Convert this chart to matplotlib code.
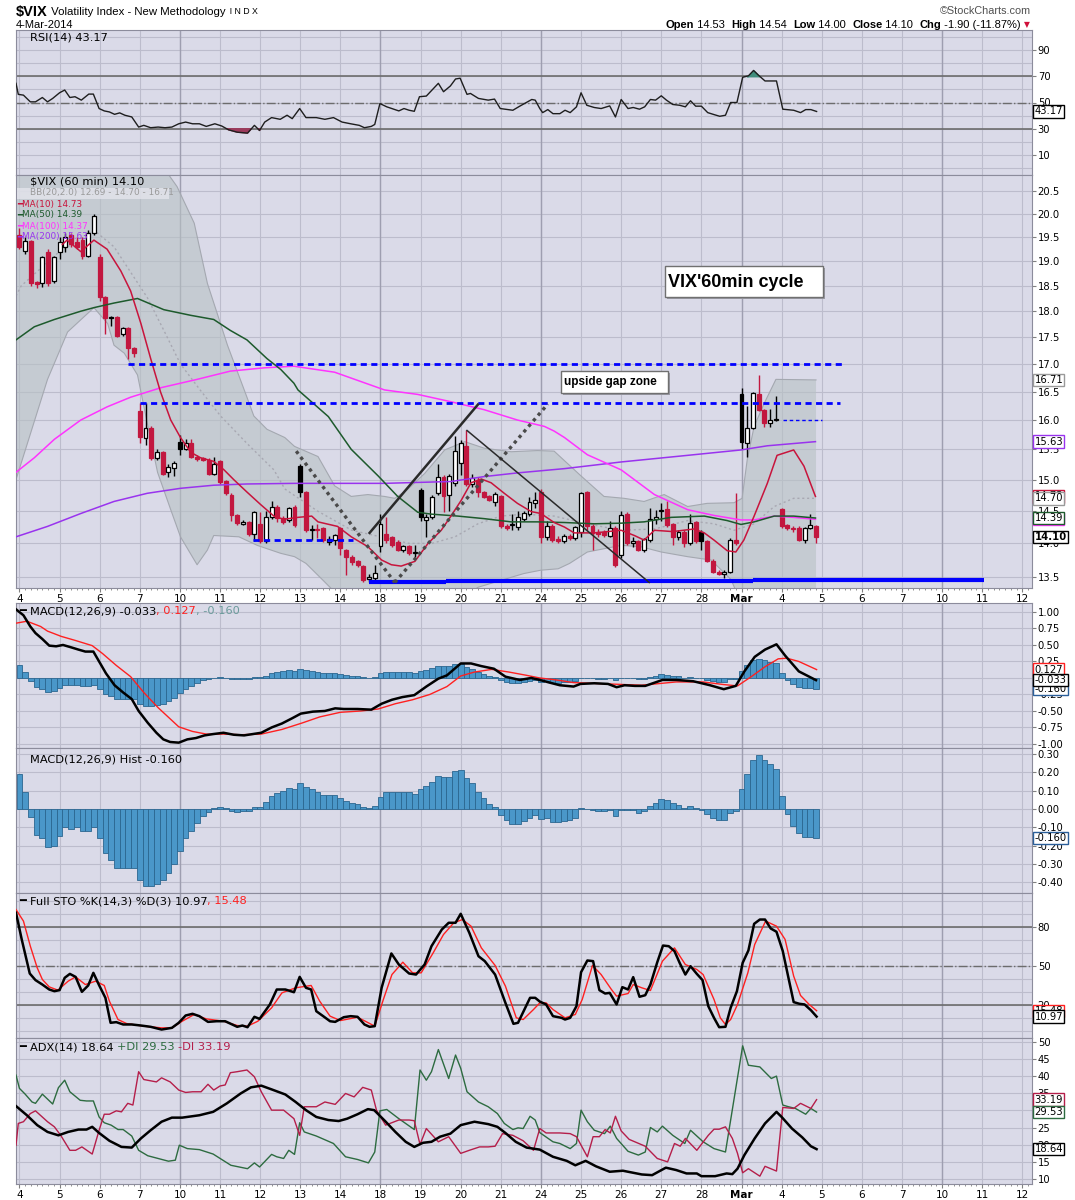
import numpy as np
import matplotlib.pyplot as plt
import matplotlib.transforms as mtransforms
from matplotlib.patches import Rectangle
from matplotlib.ticker import FixedLocator, NullLocator, FuncFormatter

# velas de 60 min, 7 por dia (4-feb ... 4-mar)
c_open = [19.55, 19.22, 19.42, 18.58, 18.55, 19.20, 18.60,
          19.20, 19.30, 19.55, 19.40, 19.45, 19.10, 19.60,
          19.09, 18.27, 17.88, 17.88, 17.56, 17.68, 17.30,
          16.15, 15.70, 15.87, 15.36, 15.45, 15.12, 15.19,
          15.63, 15.51, 15.60, 15.37, 15.35, 15.33, 15.10,
          15.30, 14.98, 14.76, 14.43, 14.30, 14.33, 14.15,
          14.30, 14.03, 14.40, 14.57, 14.39, 14.36, 14.56,
          15.22, 14.80, 14.20, 14.22, 14.23, 14.02, 14.05,
          14.23, 13.90, 13.80, 13.73, 13.66, 13.47, 13.48,
          13.96, 14.15, 14.10, 14.02, 13.90, 13.96, 13.86,
          14.84, 14.36, 14.40, 14.78, 15.05, 14.75, 14.95,
          15.27, 15.56, 14.93, 15.00, 14.80, 14.73, 14.64,
          14.73, 14.27, 14.28, 14.25, 14.38, 14.46, 14.62,
          14.80, 14.10, 14.27, 14.07, 14.03, 14.12, 14.08,
          14.17, 14.80, 14.27, 14.18, 14.17, 14.12, 14.24,
          13.83, 14.46, 14.00, 14.03, 13.90, 14.05, 14.38,
          14.50, 14.53, 14.30, 14.10, 14.18, 14.00, 14.33,
          14.17, 14.03, 13.74, 13.58, 13.55, 13.58, 14.05,
          16.46, 15.61, 15.86, 16.46, 16.17, 15.95, 16.00,
          14.53, 14.28, 14.22, 14.23, 14.05, 14.23, 14.27]
c_high = [19.70, 19.50, 19.45, 18.60, 19.10, 19.25, 19.10,
          19.50, 19.60, 19.60, 19.50, 19.50, 19.65, 20.00,
          19.15, 18.30, 17.90, 17.90, 17.70, 17.70, 17.32,
          16.30, 16.30, 15.90, 15.50, 15.47, 15.25, 15.30,
          15.75, 15.68, 15.68, 15.40, 15.38, 15.36, 15.38,
          15.32, 15.00, 14.78, 14.45, 14.36, 14.35, 14.50,
          14.48, 14.50, 14.65, 14.60, 14.42, 14.56, 14.60,
          15.25, 14.82, 14.28, 14.30, 14.25, 14.12, 14.15,
          14.25, 13.92, 13.82, 13.75, 13.68, 13.55, 13.68,
          14.45, 14.40, 14.12, 14.05, 13.98, 13.98, 13.97,
          14.86, 14.45, 14.75, 15.25, 15.08, 15.10, 15.72,
          15.65, 15.82, 15.10, 15.05, 14.82, 14.75, 14.80,
          14.76, 14.30, 14.45, 14.50, 14.50, 14.72, 14.80,
          14.85, 14.35, 14.30, 14.12, 14.15, 14.15, 14.27,
          14.80, 14.82, 14.30, 14.22, 14.20, 14.35, 14.27,
          14.50, 14.48, 14.10, 14.05, 14.08, 14.55, 14.52,
          14.62, 14.65, 14.32, 14.20, 14.20, 14.46, 14.35,
          14.20, 14.05, 13.76, 13.60, 13.60, 14.08, 14.78,
          16.56, 16.25, 16.50, 16.80, 16.20, 16.20, 16.42,
          14.54, 14.30, 14.26, 14.26, 14.25, 14.45, 14.28]
c_low = [19.25, 19.15, 18.50, 18.45, 18.47, 18.50, 18.55,
         19.05, 19.20, 19.30, 19.25, 19.05, 19.08, 19.55,
         18.20, 17.56, 17.72, 17.50, 17.53, 17.09, 17.13,
         15.60, 15.58, 15.33, 15.33, 15.07, 15.05, 15.06,
         15.40, 15.49, 15.35, 15.30, 15.30, 15.08, 15.08,
         14.93, 14.75, 14.35, 14.28, 14.28, 14.12, 14.03,
         14.00, 14.00, 14.38, 14.33, 14.30, 14.33, 14.25,
         14.72, 14.18, 14.05, 14.08, 14.02, 13.98, 13.97,
         13.83, 13.53, 13.68, 13.65, 13.43, 13.43, 13.46,
         13.87, 14.00, 13.95, 13.88, 13.87, 13.83, 13.80,
         14.35, 14.10, 14.38, 14.75, 14.48, 14.50, 14.90,
         15.08, 14.90, 14.88, 14.72, 14.70, 14.65, 14.58,
         14.24, 14.20, 14.20, 14.20, 14.35, 14.42, 14.55,
         14.00, 14.05, 14.02, 14.00, 14.00, 14.05, 14.05,
         14.10, 14.20, 13.90, 14.10, 14.10, 14.10, 13.65,
         13.78, 13.98, 13.94, 13.88, 13.87, 14.02, 14.30,
         14.35, 14.25, 13.98, 14.05, 13.95, 13.97, 14.00,
         13.90, 13.72, 13.56, 13.53, 13.49, 13.56, 13.98,
         15.50, 15.38, 15.84, 16.15, 15.88, 15.88, 15.99,
         14.24, 14.20, 14.18, 14.04, 14.00, 14.22, 14.00]
c_close = [19.30, 19.42, 18.56, 18.54, 19.08, 18.56, 19.08,
           19.40, 19.50, 19.35, 19.30, 19.10, 19.60, 19.95,
           18.27, 17.86, 17.86, 17.53, 17.68, 17.30, 17.20,
           15.71, 15.87, 15.36, 15.45, 15.10, 15.20, 15.28,
           15.51, 15.60, 15.37, 15.34, 15.33, 15.10, 15.25,
           14.96, 14.78, 14.43, 14.31, 14.33, 14.15, 14.48,
           14.03, 14.40, 14.57, 14.39, 14.33, 14.54, 14.28,
           14.80, 14.20, 14.22, 14.21, 14.05, 14.07, 14.13,
           13.93, 13.80, 13.72, 13.67, 13.45, 13.50, 13.56,
           14.30, 14.05, 13.97, 13.90, 13.96, 13.86, 13.87,
           14.40, 14.40, 14.72, 15.05, 14.73, 15.06, 15.48,
           15.61, 14.93, 15.03, 14.80, 14.72, 14.67, 14.77,
           14.26, 14.23, 14.30, 14.40, 14.47, 14.64, 14.68,
           14.10, 14.27, 14.05, 14.03, 14.12, 14.08, 14.25,
           14.78, 14.27, 14.16, 14.14, 14.13, 14.24, 13.67,
           14.43, 14.00, 14.03, 13.90, 14.06, 14.38, 14.40,
           14.52, 14.28, 14.10, 14.18, 14.00, 14.31, 14.03,
           14.03, 13.73, 13.58, 13.55, 13.58, 14.05, 14.00,
           15.63, 15.87, 16.48, 16.17, 15.95, 16.00, 16.00,
           14.27, 14.24, 14.23, 14.05, 14.23, 14.28, 14.10]

day_labels = ['4', '5', '6', '7', '10', '11', '12', '13', '14', '18', '19', '20', '21',
              '24', '25', '26', '27', '28', 'Mar', '4', '5', '6', '7', '10', '11', '12']
week_starts = [4, 9, 13, 18, 23]   # indices de dia: 10-feb, 18-feb, 24-feb, 3-mar, 10-mar

# medias y bandas (posicion en barras, valor)
ma10 = [(7.5, 19.35), (8.3, 19.44), (10.7, 19.2), (13, 19.44), (15.3, 19.25), (17.7, 18.8), (19.4, 18.4),
        (21.2, 17.76), (22.9, 17.1), (24.6, 16.5), (26.4, 16.0), (28.1, 15.7), (29.9, 15.45), (31.6, 15.36),
        (33.9, 15.3), (35.7, 15.16), (37.4, 15.0), (39.7, 14.8), (42.1, 14.6), (44.4, 14.42), (46.1, 14.37),
        (48.6, 14.4), (51, 14.42), (52.1, 14.33), (55.5, 14.26), (57.9, 14.1), (60.8, 13.95), (63.2, 13.75),
        (64.9, 13.68), (66.6, 13.66), (69, 13.73), (71.3, 14.0), (73.6, 14.2), (75.3, 14.42), (77.1, 14.67),
        (78.8, 14.95), (80.6, 15.01), (82.3, 14.95), (84.6, 14.78), (86.9, 14.62), (89.3, 14.49), (91, 14.46),
        (93.3, 14.32), (95.1, 14.25), (96.8, 14.16), (100.3, 14.16), (105, 14.2), (107.3, 14.12), (109, 14.05),
        (110.8, 14.2), (114, 14.18), (117.7, 14.22), (119.5, 14.16), (121.2, 14.05), (123.5, 13.89),
        (125, 13.87), (126.4, 14.05), (128.2, 14.42), (130.5, 14.94), (132.2, 15.4), (135.1, 15.49),
        (136.9, 15.22), (138.9, 14.73)]
ma50 = [(-0.6, 17.45), (2.6, 17.7), (6.1, 17.84), (10.7, 18.0), (13, 18.07), (16.5, 18.16), (20.6, 18.25),
        (25.2, 18.03), (29.9, 17.92), (33.9, 17.84), (36.8, 17.63), (39.7, 17.45), (43.2, 17.1), (45.6, 16.9),
        (47.9, 16.65), (48.6, 16.53), (53.9, 16.06), (57.9, 15.5), (62.6, 15.06), (66, 14.73), (69.5, 14.48),
        (71.9, 14.45), (76.5, 14.42), (81.1, 14.38), (85.8, 14.33), (90.4, 14.33), (95.1, 14.32),
        (100.3, 14.3), (105, 14.31), (109, 14.33), (113.7, 14.4), (119.5, 14.42), (123.5, 14.35),
        (125.9, 14.29), (128.2, 14.33), (131.7, 14.42), (135.1, 14.42), (138.9, 14.39)]
ma100 = [(-0.6, 15.12), (2.6, 15.36), (6.1, 15.67), (10.7, 16.0), (15.3, 16.23), (19.4, 16.4), (24.7, 16.57),
         (31, 16.72), (36.8, 16.87), (42.7, 16.93), (47.9, 16.96), (55, 16.85), (63.7, 16.53), (69.5, 16.45),
         (75.3, 16.32), (81.1, 16.18), (86.9, 16.0), (91.6, 15.89), (93.3, 15.81), (95.1, 15.7),
         (99.1, 15.41), (105, 15.16), (110.8, 14.76), (116.6, 14.52), (121.2, 14.43), (125.9, 14.36),
         (128.2, 14.36), (131.7, 14.42), (135.1, 14.4), (138.9, 14.37)]
ma200 = [(-0.6, 14.1), (4.9, 14.26), (10.7, 14.46), (16.5, 14.65), (22.3, 14.78), (28.1, 14.86), (33.9, 14.91),
         (39.7, 14.93), (47.9, 14.94), (63.7, 14.94), (75.3, 14.97), (81.1, 15.05), (86.9, 15.11),
         (95.1, 15.18), (105, 15.29), (116.6, 15.4), (125.9, 15.49), (130.5, 15.56), (138.9, 15.63)]
bb_up = [(-0.6, 22.5), (10, 22.5), (20, 22.0), (27.5, 20.6), (30.5, 19.8), (32.8, 18.55), (34.5, 17.96),
         (36.3, 17.35), (39.7, 16.4), (40.9, 16.07), (43.2, 15.84), (46.3, 15.7), (48, 15.55), (52.1, 15.38),
         (55, 14.9), (57.9, 14.73), (60.8, 14.76), (63.7, 14.73), (65.5, 14.7), (67.7, 14.84), (70.7, 15.1),
         (74.2, 15.49), (77.7, 15.63), (81.1, 15.52), (85.8, 15.46), (90.4, 15.48), (93.3, 15.47),
         (98, 15.06), (102, 14.73), (105.5, 14.7), (109, 14.65), (112.5, 14.76), (116.6, 14.57), (120, 14.62),
         (124.7, 14.63), (126.1, 14.7), (127, 15.33), (128.2, 15.89), (130, 16.3), (132, 16.72), (139, 16.71)]
bb_low = [(-0.6, 15.0), (4.9, 16.72), (8.4, 17.6), (13, 18.07), (15.4, 17.76), (16.5, 17.35), (18.3, 17.2),
          (20.6, 16.8), (22.3, 15.95), (24.1, 15.12), (26.4, 14.52), (28.1, 14.1), (31, 13.68), (32.8, 13.9),
          (33.9, 14.12), (38.3, 14.1), (41.5, 13.97), (45.6, 13.85), (48, 13.8), (50, 13.7), (53, 13.45),
          (56, 13.2), (60, 13.0), (70, 13.0), (76, 13.1), (80, 13.35), (84, 13.45), (88, 13.55), (91, 13.6),
          (94, 13.62), (96, 13.7), (99.1, 13.87), (105, 13.97), (108.4, 13.95), (112, 13.87), (116.6, 13.8),
          (120.7, 13.75), (124.2, 13.46), (125.5, 13.2), (127, 12.9), (132, 12.7), (139, 12.69)]
bb_mid = [(-0.6, 18.3), (0.3, 18.5), (6.6, 19.16), (13, 19.65), (16.5, 19.3), (22.3, 18.27), (25.2, 17.63),
          (28.1, 17.0), (31.6, 16.52), (35.1, 16.07), (39.7, 15.6), (44.4, 15.16), (46.3, 14.85), (52, 14.5),
          (58, 14.2), (63, 14.1), (68, 14.0), (72, 14.0), (76, 14.1), (80, 14.3), (84, 14.42), (88, 14.45),
          (93.3, 14.42), (99.1, 14.3), (105, 14.2), (110.8, 14.22), (116.6, 14.35), (121.2, 14.3),
          (124.7, 14.2), (128.2, 14.3), (131.7, 14.57), (135.1, 14.7), (139, 14.7)]

# lineas dibujadas a mano sobre el grafico
lines_dash = [((18.9, 17.0), (144.1, 17.0)), ((21.0, 16.3), (143.2, 16.3)), ((40.7, 14.05), (58.2, 14.05))]
line_thin_dot = ((133.3, 16.0), (140.1, 16.0))
base_line = [((61.0, 13.42), (74.4, 13.42)), ((74.4, 13.44), (128.0, 13.44)), ((128.0, 13.455), (168.3, 13.455))]
grey_dots = [((48.3, 15.47), (65.5, 13.42)), ((65.5, 13.42), (92.2, 16.28))]
black_up = ((61.1, 14.16), (80.0, 16.27))
black_down = ((78.1, 15.82), (109.9, 13.42))

rsi = [(-0.6, 64.6), (-0.2, 56.2), (0.7, 55.6), (1.9, 50.5), (2.8, 50.5), (4.0, 53.8), (4.9, 50.5), (5.8, 53.1),
       (7.0, 57.4), (7.9, 59.5), (8.8, 53.8), (9.7, 54.4), (10.8, 51.8), (12.1, 56.4), (12.9, 56.4), (13.9, 45.4),
       (14.8, 43.6), (15.7, 42.8), (16.6, 41.0), (17.5, 42.1), (18.4, 40.3), (19.6, 39.0), (20.8, 31.3),
       (21.7, 32.6), (22.9, 30.8), (24.2, 31.3), (25.4, 30.8), (26.6, 31.3), (27.8, 33.8), (29.0, 35.1),
       (30.2, 33.8), (31.4, 33.8), (32.6, 31.8), (34.1, 33.8), (35.3, 32.1), (36.5, 29.2), (38.0, 27.4),
       (39.8, 26.7), (41.0, 32.6), (41.9, 28.7), (42.8, 35.1), (44.0, 38.5), (45.5, 37.2), (46.7, 40.3),
       (47.6, 37.7), (48.9, 45.4), (50.0, 38.5), (51.8, 38.5), (53.3, 37.2), (54.8, 38.5), (56.3, 35.1),
       (57.8, 33.8), (59.3, 32.6), (60.2, 30.8), (61.4, 31.8), (62.0, 33.3), (62.9, 49.2), (64.1, 46.7),
       (66.2, 43.6), (67.1, 45.4), (68.0, 44.1), (68.9, 43.3), (69.8, 54.4), (71.0, 54.9), (73.1, 64.6),
       (74.0, 58.2), (75.2, 62.6), (76.1, 67.9), (76.9, 68.5), (78.1, 56.2), (78.7, 56.9), (80.1, 53.1),
       (81.8, 51.8), (82.9, 52.6), (83.9, 45.4), (86.1, 44.1), (87.3, 47.2), (89.4, 52.3), (90.0, 51.8),
       (90.8, 45.4), (91.3, 42.3), (92.2, 44.6), (93.1, 41.5), (94.3, 41.5), (95.2, 44.1), (96.1, 42.3),
       (97.2, 46.7), (98.0, 57.4), (99.0, 47.9), (100.3, 46.2), (101.5, 45.4), (103.0, 47.4), (104.0, 39.0),
       (105.0, 52.3), (106.2, 45.4), (107.1, 46.2), (108.2, 44.9), (109.1, 46.7), (110.1, 52.3), (111.0, 51.8),
       (112.0, 55.1), (112.9, 51.8), (114.0, 48.5), (115.2, 47.9), (116.2, 46.7), (117.1, 51.3), (118.0, 47.2),
       (119.0, 47.2), (120.1, 42.3), (121.2, 40.8), (122.2, 39.5), (123.2, 40.3), (124.1, 50.0), (125.2, 50.0),
       (126.2, 69.2), (127.2, 70.3), (128.1, 74.4), (128.9, 71.0), (130.1, 66.4), (132.1, 66.4), (133.2, 44.9),
       (135.1, 44.1), (136.3, 42.3), (137.2, 44.6), (138.1, 44.6), (139.1, 43.17)]

macd = [(-0.6, 1.04), (0.7, 0.95), (1.9, 0.78), (2.8, 0.68), (4.0, 0.59), (5.2, 0.49), (6.4, 0.48), (7.6, 0.50),
        (8.8, 0.47), (10.3, 0.43), (11.5, 0.40), (12.9, 0.40), (13.9, 0.25), (15.1, 0.07), (16.6, -0.11),
        (18.1, -0.22), (19.6, -0.32), (20.8, -0.50), (22.4, -0.68), (23.9, -0.83), (25.1, -0.93), (26.3, -0.97),
        (27.8, -0.98), (29.3, -0.93), (30.8, -0.91), (32.3, -0.87), (33.8, -0.85), (35.6, -0.83), (37.4, -0.86),
        (39.2, -0.87), (40.7, -0.85), (42.2, -0.83), (44.0, -0.75), (45.8, -0.69), (47.6, -0.61), (49.1, -0.54),
        (51.2, -0.51), (53.3, -0.50), (55.1, -0.46), (56.6, -0.47), (59.0, -0.47), (61.4, -0.48), (63.2, -0.39),
        (65.0, -0.33), (66.8, -0.29), (68.9, -0.26), (71.0, -0.13), (73.1, -0.01), (74.6, 0.04), (77.0, 0.22),
        (78.8, 0.22), (80.6, 0.18), (82.8, 0.14), (84.8, 0.02), (87.3, -0.03), (89.3, 0.0), (90.8, -0.03),
        (92.5, -0.07), (94.3, -0.11), (96.7, -0.13), (97.9, -0.09), (100.3, -0.08), (102.7, -0.09),
        (104.2, -0.14), (105.6, -0.11), (107.4, -0.12), (109.2, -0.12), (112.2, -0.03), (114.6, -0.03),
        (117.6, -0.05), (120.5, -0.11), (122.9, -0.17), (125.0, -0.12), (126.5, 0.10), (128.3, 0.32),
        (130.1, 0.43), (132.1, 0.51), (133.6, 0.34), (136.0, 0.10), (139.0, -0.033)]
macd_sig = [(-0.6, 0.83), (1.3, 0.86), (3.7, 0.78), (4.9, 0.71), (7.3, 0.63), (9.7, 0.57), (12.7, 0.49),
            (14.5, 0.37), (16.9, 0.19), (19.4, 0.02), (21.7, -0.22), (24.2, -0.45), (27.8, -0.74), (30.2, -0.81),
            (32.6, -0.85), (35.6, -0.85), (38.6, -0.86), (42.2, -0.85), (45.8, -0.78), (49.4, -0.68),
            (52.4, -0.59), (56.0, -0.52), (59.6, -0.50), (62.6, -0.47), (65.6, -0.39), (68.6, -0.33),
            (71.6, -0.25), (74.6, -0.13), (77.0, 0.03), (79.4, 0.09), (82.4, 0.13), (85.4, 0.09), (88.5, 0.04),
            (90.8, 0.0), (93.7, -0.03), (96.7, -0.07), (102.7, -0.09), (108.6, -0.11), (114.6, -0.06),
            (119.3, -0.06), (122.9, -0.10), (125.3, -0.12), (127.7, 0.02), (130.1, 0.17), (132.4, 0.29),
            (133.9, 0.30), (136.0, 0.25), (139.1, 0.127)]
macd_hist = [0.19, 0.09, -0.046, -0.14, -0.16, -0.21, -0.20,
             -0.145, -0.10, -0.11, -0.10, -0.12, -0.12, -0.10,
             -0.16, -0.24, -0.28, -0.32, -0.32, -0.32, -0.32,
             -0.39, -0.42, -0.42, -0.41, -0.39, -0.35, -0.30,
             -0.23, -0.16, -0.12, -0.075, -0.037, -0.018, 0.004,
             0.009, 0.005, -0.01, -0.017, -0.013, -0.01, 0.013,
             0.01, 0.037, 0.073, 0.086, 0.10, 0.114, 0.108,
             0.14, 0.12, 0.108, 0.09, 0.077, 0.077, 0.077,
             0.06, 0.046, 0.03, 0.028, 0.01, 0.004, 0.017,
             0.068, 0.092, 0.095, 0.092, 0.092, 0.09, 0.08,
             0.108, 0.123, 0.15, 0.18, 0.175, 0.175, 0.205,
             0.215, 0.17, 0.14, 0.09, 0.06, 0.026, 0.01,
             -0.033, -0.06, -0.08, -0.08, -0.066, -0.05, -0.033,
             -0.055, -0.05, -0.07, -0.07, -0.065, -0.06, -0.05,
             0.005, 0.0, -0.007, -0.013, -0.013, -0.007, -0.036,
             -0.007, -0.007, -0.007, -0.02, -0.013, 0.018, 0.03,
             0.055, 0.05, 0.033, 0.024, 0.005, 0.015, 0.005,
             -0.007, -0.03, -0.05, -0.06, -0.062, -0.02, -0.013,
             0.11, 0.19, 0.27, 0.295, 0.27, 0.245, 0.22,
             0.07, -0.027, -0.095, -0.13, -0.153, -0.153, -0.16]

sto_k = [(-0.6, 90.8), (0.4, 70.3), (1.8, 44.1), (2.8, 39.0), (4.0, 35.6), (5.2, 31.8), (6.1, 30.5), (7.0, 31.3),
         (7.9, 40.8), (8.8, 43.8), (9.8, 41.5), (10.9, 30.0), (12.0, 34.9), (12.9, 44.6), (13.9, 35.1),
         (15.0, 25.4), (15.9, 6.2), (16.9, 6.7), (18.1, 4.9), (19.6, 4.9), (21.2, 4.1), (22.9, 3.1), (24.8, 1.0),
         (26.6, 2.3), (27.8, 6.2), (29.0, 11.8), (30.2, 13.1), (31.4, 11.3), (32.9, 6.9), (34.4, 7.4),
         (35.9, 7.4), (38.0, 3.1), (38.9, 4.1), (39.8, 2.8), (41.0, 10.8), (41.9, 9.2), (43.7, 20.3),
         (44.9, 31.8), (46.4, 31.8), (47.9, 29.7), (48.9, 41.5), (50.0, 33.1), (50.9, 31.8), (51.8, 15.1),
         (53.0, 11.3), (54.2, 7.4), (55.1, 6.9), (56.6, 10.5), (57.8, 11.3), (59.0, 10.8), (60.2, 4.9),
         (61.1, 3.1), (62.0, 3.6), (63.2, 33.1), (64.9, 59.5), (66.2, 51.0), (68.0, 44.1), (69.2, 43.3),
         (70.7, 51.0), (71.9, 65.1), (73.7, 77.9), (74.9, 83.1), (76.1, 83.1), (77.0, 90.0), (78.5, 75.4),
         (80.1, 57.4), (81.2, 53.6), (83.0, 43.3), (84.8, 21.5), (86.2, 5.4), (87.0, 6.2), (89.1, 25.4),
         (90.0, 25.4), (90.8, 22.5), (91.9, 20.3), (93.1, 11.3), (94.6, 10.0), (95.2, 8.7), (96.1, 10.0),
         (97.2, 19.0), (98.0, 45.1), (99.1, 54.1), (100.1, 53.6), (101.2, 31.3), (102.2, 28.7), (103.0, 29.2),
         (104.2, 20.3), (105.2, 33.6), (106.2, 31.8), (107.1, 41.3), (108.2, 26.2), (109.2, 27.4),
         (110.1, 35.6), (111.3, 52.8), (112.3, 65.6), (113.3, 65.1), (114.3, 61.3), (115.2, 52.3),
         (116.2, 43.3), (117.1, 49.7), (118.2, 43.8), (119.2, 39.0), (120.2, 19.0), (121.2, 10.0), (122.1, 2.8),
         (123.2, 3.1), (124.1, 17.7), (125.2, 30.5), (126.2, 52.3), (127.2, 61.8), (128.2, 82.3), (129.2, 85.6),
         (130.1, 85.6), (131.1, 78.7), (132.1, 76.2), (133.2, 61.3), (134.1, 42.6), (135.1, 22.1),
         (136.1, 20.8), (137.0, 20.3), (138.1, 15.9), (139.1, 10.97)]
sto_d = [(-0.6, 93.3), (0.7, 84.4), (1.9, 65.1), (3.1, 48.5), (4.0, 39.5), (5.2, 33.8), (6.7, 31.3), (8.5, 38.2),
         (9.8, 41.5), (11.5, 35.6), (13.3, 38.2), (14.8, 34.9), (15.7, 22.8), (17.2, 8.7), (18.7, 5.6),
         (21.7, 3.6), (24.8, 2.3), (26.6, 2.3), (28.4, 7.4), (30.5, 12.6), (32.6, 9.2), (35.6, 7.4), (38.0, 4.1),
         (39.8, 3.6), (41.6, 7.4), (44.0, 17.7), (45.8, 29.2), (48.2, 33.1), (50.9, 34.9), (52.4, 22.8),
         (54.2, 11.3), (56.0, 7.9), (59.0, 10.5), (62.0, 3.6), (63.5, 24.1), (65.0, 43.3), (66.9, 52.8),
         (68.6, 44.6), (70.1, 44.6), (72.2, 60.0), (74.0, 74.1), (75.8, 83.1), (77.3, 85.6), (78.8, 80.5),
         (80.6, 63.8), (83.0, 50.3), (84.8, 34.4), (86.7, 10.0), (87.9, 8.7), (89.7, 16.4), (90.8, 21.5),
         (91.9, 21.5), (93.1, 16.4), (95.2, 10.0), (97.0, 12.6), (98.2, 24.1), (100.0, 50.3), (101.5, 43.3),
         (103.3, 31.8), (104.2, 26.7), (106.2, 28.7), (107.1, 35.6), (108.6, 33.1), (110.1, 31.0),
         (112.2, 53.6), (114.3, 63.8), (116.2, 51.0), (118.2, 47.2), (119.3, 43.3), (121.2, 24.1),
         (122.3, 10.0), (123.2, 4.9), (124.1, 8.7), (125.3, 20.3), (127.1, 44.6), (128.3, 66.4), (130.2, 84.4),
         (132.1, 80.5), (133.6, 70.3), (135.1, 42.1), (136.3, 27.2), (137.8, 20.3), (139.1, 15.48)]

adx = [(-0.6, 31.3), (1.3, 28.6), (3.1, 25.7), (4.9, 23.7), (6.8, 22.7), (8.5, 23.7), (10.3, 24.4), (11.7, 24.4),
       (12.7, 25.2), (13.9, 23.4), (15.7, 21.1), (17.8, 19.3), (19.6, 19.1), (21.2, 21.8), (22.9, 24.2),
       (24.8, 26.7), (26.6, 27.9), (28.4, 27.9), (31.4, 28.6), (33.8, 29.6), (36.2, 32.1), (38.6, 35.0),
       (40.4, 36.8), (42.2, 37.3), (44.0, 36.2), (46.4, 34.7), (48.2, 32.5), (50.0, 30.1), (51.8, 28.1),
       (53.9, 27.2), (55.7, 26.9), (57.2, 27.6), (59.0, 28.9), (60.8, 30.4), (61.9, 30.1), (63.8, 26.9),
       (65.6, 23.7), (67.4, 20.8), (68.9, 19.3), (70.4, 20.5), (71.9, 20.8), (73.4, 22.3), (75.2, 23.2),
       (77.0, 25.7), (79.4, 26.7), (81.8, 26.0), (83.4, 25.2), (84.8, 23.4), (86.6, 20.8), (88.5, 19.1),
       (90.8, 18.5), (93.1, 16.4), (95.5, 15.2), (97.0, 13.9), (98.8, 15.2), (100.6, 13.6), (103.0, 12.0),
       (105.3, 12.3), (108.6, 11.2), (110.4, 11.0), (112.8, 13.2), (114.6, 12.5), (116.4, 11.5), (118.2, 11.5),
       (119.0, 10.7), (121.4, 10.7), (123.4, 11.5), (124.4, 11.3), (125.3, 12.9), (126.5, 16.9), (128.3, 21.8),
       (130.1, 26.2), (132.1, 29.6), (133.0, 28.1), (134.8, 24.7), (136.6, 22.1), (138.1, 19.5), (139.1, 18.64)]
plus_di = [(-0.6, 40.4), (0.0, 36.5), (1.0, 34.8), (2.2, 32.5), (2.8, 32.1), (4.0, 34.8), (5.8, 31.9), (6.8, 36.7),
           (7.9, 38.9), (8.8, 35.5), (10.6, 33.0), (11.7, 32.8), (12.9, 32.8), (13.9, 28.1), (14.8, 26.4),
           (16.0, 25.7), (17.2, 24.4), (18.1, 24.4), (19.6, 22.5), (20.8, 18.3), (22.4, 16.7), (24.2, 15.9),
           (26.0, 15.1), (27.2, 15.4), (27.9, 19.8), (29.3, 18.8), (31.4, 18.5), (33.8, 17.2), (36.9, 13.9),
           (39.8, 12.9), (41.0, 14.6), (41.9, 13.4), (44.0, 17.1), (44.9, 16.4), (46.1, 15.9), (47.0, 18.3),
           (48.0, 17.1), (48.9, 26.4), (49.7, 23.7), (51.8, 22.5), (54.8, 20.3), (56.9, 16.4), (59.0, 15.6),
           (60.9, 14.6), (62.0, 17.8), (62.9, 29.9), (64.1, 30.3), (66.2, 27.6), (68.9, 24.4), (69.9, 41.9),
           (71.0, 38.9), (71.9, 41.4), (73.1, 47.9), (74.9, 39.4), (76.1, 46.3), (77.0, 42.4), (78.1, 35.5),
           (80.1, 32.5), (81.8, 31.1), (83.4, 29.1), (84.6, 26.2), (86.1, 24.4), (87.0, 24.9), (87.9, 24.7),
           (89.1, 28.3), (90.0, 27.2), (90.8, 23.5), (93.1, 20.8), (94.3, 20.3), (96.1, 18.8), (97.2, 20.3),
           (98.0, 30.1), (99.1, 26.7), (100.3, 24.2), (102.1, 23.2), (103.1, 25.4), (104.2, 21.8), (106.2, 18.0),
           (108.0, 16.9), (109.2, 17.8), (110.1, 25.0), (111.3, 23.7), (112.2, 25.4), (114.0, 22.7),
           (116.1, 20.3), (117.1, 24.2), (119.3, 20.8), (121.2, 18.8), (123.2, 17.8), (126.2, 49.0),
           (127.2, 43.3), (129.2, 42.8), (131.2, 39.4), (132.1, 40.1), (133.2, 31.6), (134.2, 31.1),
           (135.4, 30.6), (137.2, 28.9), (138.1, 30.6), (139.1, 29.53)]
minus_di = [(-0.6, 19.8), (-0.2, 26.2), (0.7, 26.7), (1.9, 29.1), (2.8, 29.9), (4.9, 26.7), (6.1, 25.2),
            (7.2, 22.7), (8.8, 18.3), (9.8, 18.3), (10.9, 19.3), (12.7, 17.2), (13.9, 24.2), (14.8, 28.9),
            (15.7, 28.9), (16.9, 29.9), (17.8, 29.6), (18.9, 32.1), (19.8, 31.6), (20.8, 41.4), (21.7, 39.1),
            (23.9, 38.4), (24.8, 39.6), (26.3, 38.4), (27.8, 36.0), (29.0, 35.3), (30.2, 35.5), (31.7, 35.5),
            (32.9, 37.7), (33.9, 36.0), (35.0, 37.2), (35.9, 37.5), (36.8, 41.1), (38.0, 41.4), (39.7, 41.9),
            (41.0, 39.9), (42.2, 35.5), (44.0, 30.1), (46.1, 30.1), (47.9, 27.6), (48.9, 22.7), (49.7, 31.1),
            (51.8, 31.1), (53.3, 32.5), (55.1, 31.8), (56.9, 35.0), (58.4, 34.0), (59.9, 36.8), (61.4, 36.0),
            (62.3, 30.1), (63.9, 25.7), (66.2, 27.2), (68.0, 27.2), (68.9, 27.0), (69.9, 20.0), (71.0, 24.7),
            (73.1, 20.8), (74.9, 22.3), (77.0, 17.4), (78.5, 18.3), (80.3, 19.3), (81.8, 19.3), (83.0, 19.5),
            (84.3, 23.2), (86.1, 22.7), (87.9, 21.1), (89.7, 18.3), (90.8, 24.7), (91.9, 23.4), (94.3, 23.4),
            (96.1, 23.2), (97.2, 22.3), (99.1, 16.4), (100.1, 22.3), (101.2, 22.3), (102.2, 24.4), (103.1, 23.4),
            (104.0, 28.3), (105.0, 24.0), (106.4, 21.5), (109.2, 19.5), (111.3, 15.9), (113.1, 14.9),
            (114.3, 20.3), (115.3, 19.5), (116.2, 21.8), (118.2, 18.3), (120.2, 22.7), (121.2, 24.5),
            (122.1, 24.5), (123.2, 25.2), (124.4, 21.8), (125.3, 17.4), (126.2, 11.7), (127.2, 12.9),
            (129.2, 10.7), (130.1, 13.6), (132.1, 12.2), (133.2, 30.9), (135.1, 30.6), (136.3, 32.1),
            (138.1, 30.6), (139.1, 33.19)]

# ---------------------------------------------------------------- estilo
W, H = 1075, 1200
L, R = 16, 1031.5
XL, XR = -0.6, 176.6
BG = '#dadae8'
GRID = '#bcbccc'
WEEK = '#9e9eb0'
RED = '#c2173f'
HIST = '#4a97c9'
HIST_E = '#2b6690'
LEG = 8.2      # leyendas de panel
LEG_S = 6.4    # leyendas de medias

fig = plt.figure(figsize=(W / 100, H / 100), dpi=100)
PX = mtransforms.Affine2D().scale(1.0 / W, -1.0 / H).translate(0, 1) + fig.transFigure
renderer = fig.canvas.get_renderer()

day_pos = [7 * k for k in range(len(day_labels))]


def xy(pts):
    return [p[0] for p in pts], [p[1] for p in pts]


def panel(top, bot):
    ax = fig.add_axes([L / W, 1 - bot / H, (R - L) / W, (bot - top) / H])
    ax.set_facecolor(BG)
    ax.set_xlim(XL, XR)
    for sp in ax.spines.values():
        sp.set_color('#8c8c9c')
    ax.yaxis.tick_right()
    ax.tick_params(axis='y', which='major', labelsize=7.2, length=3, width=0.8, color='#808080', pad=1.5)
    ax.tick_params(axis='y', which='minor', length=0)
    ax.set_xticks(day_pos)
    ax.set_xticks(np.arange(0, 177), minor=True)
    ax.tick_params(axis='x', which='major', length=3, color='#808080', labelbottom=False)
    ax.tick_params(axis='x', which='minor', length=1.5, color='#808080')
    ax.grid(True, axis='x', which='major', color=GRID, lw=0.8)
    ax.grid(True, axis='y', which='both', color=GRID, lw=0.8)
    ax.set_axisbelow(True)
    for k in week_starts:
        ax.axvline(day_pos[k], color=WEEK, lw=1.0, zorder=0.8)
    return ax


def tag(ax, val, txt, ec, bold=False, z=6):
    ax.text(1.003, val, txt, transform=ax.get_yaxis_transform(), ha='left', va='center', fontsize=7.2,
            fontweight='bold' if bold else 'normal', color='black', zorder=z, clip_on=False,
            bbox=dict(boxstyle='square,pad=0.12', fc='white', ec=ec, lw=1))


def rich(x, y, parts, size=LEG, family='DejaVu Sans', right=False):
    # parts: (texto, color, peso[, tamano])
    tr = PX
    seq = parts[::-1] if right else parts
    for p in seq:
        s, col, wt = p[:3]
        sz = p[3] if len(p) > 3 else size
        t = fig.text(x, y, s, transform=tr, color=col, fontsize=sz, fontweight=wt, family=family,
                     ha='right' if right else 'left', va='center')
        w = t.get_window_extent(renderer).width
        tr = mtransforms.offset_copy(t.get_transform(), x=-w if right else w, units='dots')


def xlabels(ax):
    ax.tick_params(axis='x', which='major', labelbottom=True, labelsize=7.5, pad=1.5)
    ax.set_xticklabels(day_labels)
    ax.get_xticklabels()[day_labels.index('Mar')].set_fontweight('bold')


def fmt2(v, pos):
    return '%.2f' % (0.0 if abs(v) < 1e-9 else v)


# ---------------------------------------------------------------- RSI
ax_rsi = panel(30, 175)
ax_rsi.set_ylim(-5.2, 105.2)
ax_rsi.yaxis.set_major_locator(FixedLocator([10, 30, 50, 70, 90]))
ax_rsi.yaxis.set_minor_locator(FixedLocator([0, 20, 40, 60, 80, 100]))
for lv in (70, 30):
    ax_rsi.axhline(lv, color='#6c6c6c', lw=1.2, zorder=1)
ax_rsi.axhline(50, color='#6c6c6c', lw=1.0, ls='-.', zorder=1)
rx, ry = xy(rsi)
rx, ry = np.array(rx), np.array(ry)
ax_rsi.fill_between(rx, ry, 30, where=ry < 30, interpolate=True, color='#9c3a5c', zorder=2)
ax_rsi.fill_between(rx, ry, 70, where=ry > 70, interpolate=True, color='#3f8d7c', zorder=2)
ax_rsi.plot(rx, ry, color='#1e1e1e', lw=1.0, zorder=3)
tag(ax_rsi, 43.17, '43.17', 'black')

# ---------------------------------------------------------------- precio
ax = panel(175, 588)
ax.set_yscale('log')
ticks = np.arange(13.5, 20.51, 0.5)
ax.yaxis.set_major_locator(FixedLocator(ticks))
ax.yaxis.set_minor_locator(NullLocator())
ax.yaxis.set_major_formatter(FuncFormatter(lambda v, p: '%.1f' % v))
ax.yaxis.set_minor_formatter(FuncFormatter(lambda v, p: ''))
ax.set_ylim(13.34, 20.86)
xlabels(ax)

ux, uy = xy(bb_up)
lx, ly = xy(bb_low)
ax.fill(ux + lx[::-1], uy + ly[::-1], color='#b8c2c4', alpha=0.6, lw=0, zorder=1)
ax.plot(ux, uy, color='#a4a8b0', lw=0.8, zorder=1.2)
ax.plot(lx, ly, color='#a4a8b0', lw=0.8, zorder=1.2)
mx, my = xy(bb_mid)
ax.plot(mx, my, color='#a8a8b2', lw=1.0, ls=(0, (1.5, 2)), zorder=1.2)

o = np.array(c_open)
hgh = np.array(c_high)
low = np.array(c_low)
c = np.array(c_close)
xs = np.arange(len(c))
prev = np.r_[o[0], c[:-1]]
cols = np.where(c < prev, RED, 'black')
ax.vlines(xs, low, hgh, colors=cols, lw=1.0, zorder=3)
body_lo = np.minimum(o, c)
body_h = np.maximum(np.abs(c - o), 0.012)
faces = [col if cl < op else 'white' for col, cl, op in zip(cols, c, o)]
ax.bar(xs, body_h, bottom=body_lo, width=0.68, color=faces, edgecolor=cols, lw=0.9, zorder=3.5)

for pts, col, lw in ((ma200, '#9933ee', 1.1), (ma100, '#ff33ff', 1.1), (ma50, '#1d5a2c', 1.1), (ma10, '#c8143c', 1.1)):
    px_, py_ = xy(pts)
    ax.plot(px_, py_, color=col, lw=lw, zorder=4)

for (a, b) in lines_dash:
    ax.plot([a[0], b[0]], [a[1], b[1]], color='#0000ff', lw=2.0, ls=(0, (2.2, 1.6)), zorder=5)
ax.plot([line_thin_dot[0][0], line_thin_dot[1][0]], [line_thin_dot[0][1], line_thin_dot[1][1]],
        color='#0000ff', lw=1.0, ls=(0, (2.5, 2)), zorder=5)
for (a, b) in base_line:
    ax.plot([a[0], b[0]], [a[1], b[1]], color='#0000ff', lw=3.0, solid_capstyle='butt', zorder=5)
for (a, b) in grey_dots:
    ax.plot([a[0], b[0]], [a[1], b[1]], color='#4a4a4a', lw=2.4, ls=(0, (1, 1.2)), zorder=5)
ax.plot([black_up[0][0], black_up[1][0]], [black_up[0][1], black_up[1][1]], color='#2a2a2a', lw=1.8, zorder=5)
ax.plot([black_down[0][0], black_down[1][0]], [black_down[0][1], black_down[1][1]], color='#2a2a2a', lw=1.1, zorder=5)


def price_at(ypx):
    return 20.5 * np.exp(-(ypx - 191) / 924.0)


def bar_at(xpx):
    return (xpx - 19.5) / 5.73


def note_box(x0, x1, y0, y1):
    sh = 2 / 5.73
    f = np.exp(-2 / 924.0)
    ax.add_patch(Rectangle((bar_at(x0) + sh, price_at(y1) * f), bar_at(x1) - bar_at(x0),
                           price_at(y0) - price_at(y1), fc='#9a9aa4', ec='none', zorder=6))
    ax.add_patch(Rectangle((bar_at(x0), price_at(y1)), bar_at(x1) - bar_at(x0),
                           price_at(y0) - price_at(y1), fc='white', ec='#707070', lw=1, zorder=6.5))


note_box(561, 668, 371, 393)
ax.text(bar_at(564), price_at(382), 'upside gap zone', ha='left', va='center', fontsize=8.5,
        fontweight='bold', family='Liberation Sans', zorder=7)
note_box(665, 823, 266, 297)
ax.text(bar_at(668), price_at(282), "VIX'60min cycle", ha='left', va='center', fontsize=13,
        fontweight='bold', family='Liberation Sans', zorder=7)

tag(ax, 16.71, '16.71', '#9a9a9a')
tag(ax, 15.63, '15.63', '#9933ee')
tag(ax, 14.73, '14.73', '#c8143c', z=5)
tag(ax, 14.70, '14.70', '#9a9a9a', z=6)
tag(ax, 14.37, '14.37', '#ff33ff', z=5)
tag(ax, 14.39, '14.39', '#1d5a2c', z=6)
tag(ax, 14.10, '14.10', 'black', bold=True, z=7)

# ---------------------------------------------------------------- MACD
ax_m = panel(603, 748)
ax_m.set_ylim(-1.061, 1.136)
ax_m.yaxis.set_major_locator(FixedLocator(np.arange(-1.0, 1.01, 0.25)))
ax_m.yaxis.set_major_formatter(FuncFormatter(fmt2))
ax_m.bar(xs, macd_hist, width=1.0, color=HIST, edgecolor=HIST_E, lw=0.6, zorder=2)
sx, sy = xy(macd_sig)
ax_m.plot(sx, sy, color='#ff2020', lw=1.0, zorder=3)
mx, my = xy(macd)
ax_m.plot(mx, my, color='black', lw=1.8, zorder=4)
tag(ax_m, 0.127, '0.127', '#ff2020')
tag(ax_m, -0.033, '-0.033', 'black', z=7)
tag(ax_m, -0.16, '-0.160', '#2b5f9a', z=6)

# ---------------------------------------------------------------- histograma
ax_h = panel(748, 893)
ax_h.set_ylim(-0.459, 0.333)
ax_h.yaxis.set_major_locator(FixedLocator(np.arange(-0.4, 0.31, 0.1)))
ax_h.yaxis.set_major_formatter(FuncFormatter(fmt2))
ax_h.bar(xs, macd_hist, width=1.0, color=HIST, edgecolor=HIST_E, lw=0.6, zorder=2)
tag(ax_h, -0.16, '-0.160', '#2b5f9a')

# ---------------------------------------------------------------- STO
ax_s = panel(893, 1038)
ax_s.set_ylim(-5.5, 106)
ax_s.yaxis.set_major_locator(FixedLocator([20, 50, 80]))
ax_s.yaxis.set_minor_locator(FixedLocator([0, 10, 30, 40, 60, 70, 90, 100]))
for lv in (80, 20):
    ax_s.axhline(lv, color='#6c6c6c', lw=1.2, zorder=1)
ax_s.axhline(50, color='#6c6c6c', lw=1.0, ls='-.', zorder=1)
dx, dy = xy(sto_d)
ax_s.plot(dx, dy, color='#ff2020', lw=1.0, zorder=3)
kx, ky = xy(sto_k)
ax_s.plot(kx, ky, color='black', lw=1.8, zorder=4)
tag(ax_s, 15.48, '15.48', '#ff2020', z=5)
tag(ax_s, 10.97, '10.97', 'black', z=6)

# ---------------------------------------------------------------- ADX
ax_a = panel(1038, 1184)
ax_a.set_ylim(8.4, 51.3)
ax_a.yaxis.set_major_locator(FixedLocator(np.arange(10, 51, 5)))
ax_a.yaxis.set_major_formatter(FuncFormatter(lambda v, p: '%d' % v))
px_, py_ = xy(plus_di)
ax_a.plot(px_, py_, color='#2d6b40', lw=1.0, zorder=3)
px_, py_ = xy(minus_di)
ax_a.plot(px_, py_, color='#b51e4a', lw=1.0, zorder=3)
px_, py_ = xy(adx)
ax_a.plot(px_, py_, color='black', lw=1.8, zorder=4)
tag(ax_a, 33.19, '33.19', '#b51e4a')
tag(ax_a, 29.53, '29.53', '#2d6b40')
tag(ax_a, 18.64, '18.64', 'black')
xlabels(ax_a)

# ---------------------------------------------------------------- textos
rich(16, 12, [('$VIX', 'black', 'bold', 10.5), (' Volatility Index - New Methodology', 'black', 'normal', 8.2),
              ('  I N D X', 'black', 'normal', 6.3)], family='Liberation Sans')
fig.text(16, 25, '4-Mar-2014', transform=PX, fontsize=8, family='Liberation Sans', va='center')
fig.text(1031, 11, '\u00a9StockCharts.com', transform=PX, fontsize=7.8, family='Liberation Sans',
         color='#505050', ha='right', va='center')
rich(1021, 25, [('Open', 'black', 'bold'), (' 14.53  ', 'black', 'normal'),
                ('High', 'black', 'bold'), (' 14.54  ', 'black', 'normal'),
                ('Low', 'black', 'bold'), (' 14.00  ', 'black', 'normal'),
                ('Close', 'black', 'bold'), (' 14.10  ', 'black', 'normal'),
                ('Chg', 'black', 'bold'), (' -1.90 (-11.87%)', 'black', 'normal')],
     size=8, family='Liberation Sans', right=True)
fig.text(1027, 25, '\u25bc', transform=PX, fontsize=5.5, color='#d0103a', ha='center', va='center')

rich(30, 37, [('RSI(14) 43.17', 'black', 'normal')])
rich(30, 182, [('$VIX (60 min) 14.10', 'black', 'normal')])
fig.add_artist(Rectangle((17, 188), 152, 11, transform=PX, fc='#e6e6ee', ec='none', alpha=0.75))
rich(30, 193, [('BB(20,2.0) 12.69 - 14.70 - 16.71', '#9a9a9a', 'normal')], size=LEG_S)
rich(17, 204, [('\u2501', '#c8143c', 'normal'), ('MA(10) 14.73', '#c8143c', 'normal')], size=LEG_S)
rich(17, 215, [('\u2501', '#1d5a2c', 'normal'), ('MA(50) 14.39', '#1d5a2c', 'normal')], size=LEG_S)
rich(17, 226, [('\u2501', '#ff33ff', 'normal'), ('MA(100) 14.37', '#ff33ff', 'normal')], size=LEG_S)
rich(17, 237, [('\u2501', '#9933ee', 'normal'), ('MA(200) 15.63', '#9933ee', 'normal')], size=LEG_S)
rich(19, 611, [('\u2501 ', 'black', 'normal'), ('MACD(12,26,9) -0.033', 'black', 'normal'),
               (', 0.127', '#ff2020', 'normal'), (', -0.160', '#6a9a9a', 'normal')])
rich(30, 760, [('MACD(12,26,9) Hist -0.160', 'black', 'normal')])
rich(19, 901, [('\u2501 ', 'black', 'normal'), ('Full STO %K(14,3) %D(3) 10.97', 'black', 'normal'),
               (', 15.48', '#ff2020', 'normal')])
rich(19, 1047, [('\u2501 ', 'black', 'normal'), ('ADX(14) 18.64 ', 'black', 'normal'),
                ('+DI 29.53 ', '#2d6b40', 'normal'), ('-DI 33.19', '#b51e4a', 'normal')])

fig.savefig('out.png', dpi=100, facecolor='white')
